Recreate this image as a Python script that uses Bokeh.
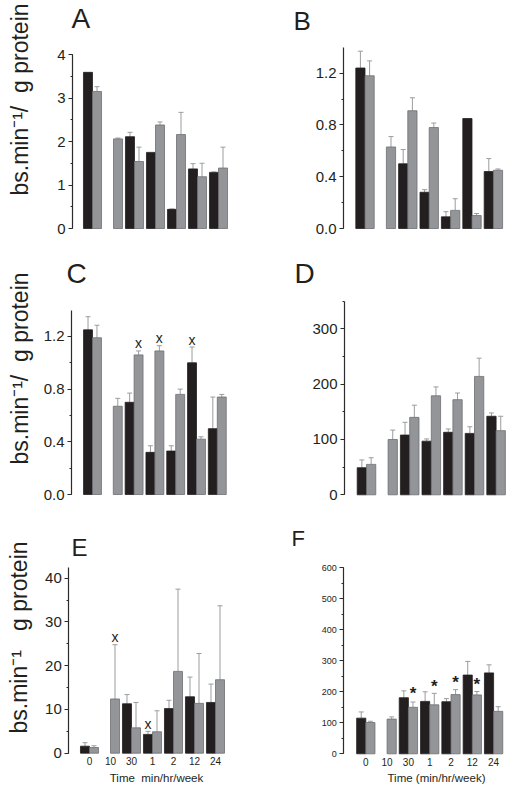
import math
from bokeh.plotting import figure
from bokeh.models import (ColumnDataSource, Whisker, TeeHead, Label, Range1d,
                          SingleIntervalTicker, FixedTicker, NumeralTickFormatter)
from bokeh.layouts import column, row
from bokeh.embed import file_html
from bokeh.resources import INLINE
from bokeh.core.properties import value

nan = float("nan")

# ---------------- data ----------------
times = ["0", "10", "30", "1", "2", "12", "24"]

a_black = [3.59, nan, 2.11, 1.75, 0.44, 1.37, 1.29]
a_black_err = [0.0, nan, 0.10, 0.0, 0.01, 0.12, 0.01]
a_gray = [3.15, 2.06, 1.54, 2.38, 2.16, 1.19, 1.39]
a_gray_err = [0.11, 0.02, 0.33, 0.07, 0.51, 0.31, 0.48]

b_black = [1.24, nan, 0.50, 0.28, 0.09, 0.85, 0.44]
b_black_err = [0.13, nan, 0.11, 0.02, 0.04, 0.0, 0.10]
b_gray = [1.18, 0.63, 0.91, 0.78, 0.14, 0.10, 0.45]
b_gray_err = [0.115, 0.08, 0.10, 0.035, 0.09, 0.016, 0.01]

c_black = [1.25, nan, 0.70, 0.32, 0.33, 1.00, 0.50]
c_black_err = [0.10, nan, 0.07, 0.05, 0.04, 0.12, 0.24]
c_gray = [1.19, 0.67, 1.06, 1.09, 0.76, 0.42, 0.74]
c_gray_err = [0.095, 0.06, 0.03, 0.04, 0.04, 0.018, 0.02]

d_black = [49, nan, 108, 97, 113, 111, 142]
d_black_err = [14, nan, 23, 4, 6, 12, 6]
d_gray = [55, 100, 140, 179, 172, 214, 116]
d_gray_err = [12, 17, 22, 16, 12, 33, 26]

e_black = [1.6, nan, 11.3, 4.3, 10.2, 12.9, 11.6]
e_black_err = [0.8, nan, 2.1, 0.7, 1.9, 4.5, 4.2]
e_gray = [1.3, 12.4, 5.8, 4.9, 18.7, 11.4, 16.8]
e_gray_err = [0.4, 12.4, 5.8, 4.8, 18.8, 11.4, 16.9]

f_black = [115, nan, 181, 169, 168, 254, 261]
f_black_err = [20, nan, 22, 31, 10, 44, 26]
f_gray = [101, 112, 150, 158, 191, 190, 137]
f_gray_err = [4, 7, 17, 37, 16, 11, 15]

# significance marks: (time index, series, y)
c_mark_idx = [2, 3, 5]
c_mark_series = ["gray", "gray", "black"]
c_mark_y = [1.15, 1.19, 1.17]
e_mark_idx = [1, 3]
e_mark_series = ["gray", "black"]
e_mark_y = [26.6, 6.6]
f_mark_idx = [2, 3, 4, 5]
f_mark_series = ["gray", "gray", "gray", "gray"]
f_mark_y = [196, 218, 231, 225]

NB = "\u00a0"
ytitle_main = "bs.min\u207b\u00b9/" + NB * 2 + "g protein"
ytitle_e = "bs.min\u207b\u00b9" + NB * 3 + "g protein"
xtitle_e = "Time" + NB * 2 + "min/hr/week"
xtitle_f = "Time (min/hr/week)"

# ---------------- style ----------------
FONT = "Liberation Sans"
BLACK = "#231f20"
GRAY = "#939598"
GRAY_EDGE = "#6d6e71"
ERR = "#9a9c9f"
AXIS = "#2b2b2b"
BW = 0.43
OFF = BW / 2


def panel(fx, fy, W, H, c0, s, axis_px, Z, T, ymax, interval, fmt,
          black, black_err, gray, gray_err, letter, letter_pos, letter_size,
          ytitle=None, ytitle_pos=None, tick_size="15px", xtitle=None,
          xtitle_pos=None, marks=None, mark_text="x", mark_size="14px",
          mark_style="normal"):
    # page-pixel layout -> data ranges (frame fills the whole figure)
    x0 = -(c0 - fx) / s
    x1 = x0 + W / s
    k = (Z - T) / ymax
    y0 = -(fy + H - Z) / k
    y1 = y0 + H / k
    xa = x0 + (axis_px - fx) / s

    p = figure(width=W, height=H, output_backend="svg", toolbar_location=None,
               x_range=Range1d(x0, x1), y_range=Range1d(y0, y1),
               min_border_left=0, min_border_right=0,
               min_border_top=0, min_border_bottom=0)
    p.outline_line_color = None
    p.grid.visible = False
    p.background_fill_color = "white"
    p.border_fill_color = "white"

    bx = [i - OFF for i, v in enumerate(black) if not math.isnan(v)]
    bv = [v for v in black if not math.isnan(v)]
    gx = [i + OFF for i, v in enumerate(gray) if not math.isnan(v)]
    gv = [v for v in gray if not math.isnan(v)]
    p.vbar(x=bx, top=bv, bottom=0, width=BW, fill_color=BLACK,
           line_color=BLACK, line_width=0.8)
    p.vbar(x=gx, top=gv, bottom=0, width=BW, fill_color=GRAY,
           line_color=GRAY_EDGE, line_width=0.8)

    for vals, errs, off in ((black, black_err, -OFF), (gray, gray_err, OFF)):
        base, lo, up = [], [], []
        for i, (v, e) in enumerate(zip(vals, errs)):
            if math.isnan(v) or math.isnan(e) or e <= 0:
                continue
            base.append(i + off)
            lo.append(v)
            up.append(v + e)
        src = ColumnDataSource(dict(base=base, lower=lo, upper=up))
        w = Whisker(base="base", lower="lower", upper="upper", source=src,
                    line_color=ERR, line_width=1, lower_head=None,
                    upper_head=TeeHead(size=5, line_color=ERR, line_width=1))
        p.add_layout(w)

    yax = p.yaxis[0]
    yax.fixed_location = xa
    yax.bounds = (0, ymax)
    yax.ticker = SingleIntervalTicker(interval=interval, num_minor_ticks=2)
    yax.formatter = NumeralTickFormatter(format=fmt)
    yax.axis_line_color = AXIS
    yax.axis_line_width = 1.2
    yax.major_tick_line_color = AXIS
    yax.minor_tick_line_color = AXIS
    yax.major_tick_in = 0
    yax.major_tick_out = 4
    yax.minor_tick_in = 0
    yax.minor_tick_out = 2
    yax.major_label_standoff = 3
    yax.major_label_text_font = FONT
    yax.major_label_text_font_size = tick_size
    yax.major_label_text_color = BLACK

    xax = p.xaxis[0]
    if xtitle is None:
        xax.visible = False
    else:
        xax.fixed_location = 0
        xax.ticker = FixedTicker(ticks=list(range(len(times))))
        xax.major_label_overrides = {i: t for i, t in enumerate(times)}
        xax.axis_line_color = None
        xax.major_tick_line_color = None
        xax.minor_tick_line_color = None
        xax.major_tick_out = 0
        xax.major_tick_in = 0
        xax.major_label_standoff = 4
        xax.major_label_text_font = FONT
        xax.major_label_text_font_size = "10px"
        xax.major_label_text_color = BLACK
        p.add_layout(Label(x=xtitle_pos[0] - fx, y=fy + H - xtitle_pos[1],
                           x_units="screen", y_units="screen", text=xtitle,
                           text_font=FONT, text_font_size="11.5px",
                           text_align="center", text_baseline="middle",
                           text_color=BLACK))

    if marks is not None:
        idx, series, ys = marks
        mx = [i - OFF if sr == "black" else i + OFF for i, sr in zip(idx, series)]
        p.text(x=mx, y=ys, text=[mark_text] * len(mx), text_font=value(FONT),
               text_font_size=mark_size, text_font_style=mark_style,
               text_align="center", text_baseline="middle", text_color=BLACK)

    # letter: page (left x, centre y) -> screen coords of the frame
    p.add_layout(Label(x=letter_pos[0] - fx, y=fy + H - letter_pos[1],
                       x_units="screen", y_units="screen", text=letter,
                       text_font=FONT, text_font_size=letter_size,
                       text_align="left", text_baseline="middle",
                       text_color=BLACK))
    if ytitle is not None:
        p.add_layout(Label(x=ytitle_pos[0] - fx, y=fy + H - ytitle_pos[1],
                           x_units="screen", y_units="screen", text=ytitle,
                           text_font=FONT, text_font_size="23px",
                           text_align="center", text_baseline="middle",
                           angle=math.pi / 2, text_color=BLACK))
    return p


pA = panel(0, 0, 260, 240, 92, 21.0, 72, 228, 54, 4.0, 1, "0",
           a_black, a_black_err, a_gray, a_gray_err, "A", (71, 18), "28px",
           ytitle=ytitle_main, ytitle_pos=(19, 99))
pB = panel(260, 0, 247, 240, 364.5, 21.4, 343, 228, 46.8, 1.4, 0.4, "0.0",
           b_black, b_black_err, b_gray, b_gray_err, "B", (293, 20.5), "26px")
pC = panel(0, 240, 260, 270, 92, 20.8, 71, 494, 309.6, 1.4, 0.4, "0.0",
           c_black, c_black_err, c_gray, c_gray_err, "C", (66, 272.5), "28px",
           ytitle=ytitle_main, ytitle_pos=(19, 368),
           marks=(c_mark_idx, c_mark_series, c_mark_y))
pD = panel(260, 240, 247, 270, 366, 21.6, 344, 494.3, 300.7, 350, 100, "0",
           d_black, d_black_err, d_gray, d_gray_err, "D", (294, 273), "28px")
pE = panel(0, 510, 260, 277, 89, 21.0, 68.3, 752.7, 566.8, 42.5, 10, "0",
           e_black, e_black_err, e_gray, e_gray_err, "E", (71, 546.5), "24px",
           ytitle=ytitle_e, ytitle_pos=(18, 637),
           xtitle=xtitle_e, xtitle_pos=(156, 777),
           marks=(e_mark_idx, e_mark_series, e_mark_y))
pF = panel(260, 510, 247, 277, 365.3, 21.3, 343.3, 753.3, 567.3, 600, 100, "0",
           f_black, f_black_err, f_gray, f_gray_err, "F", (291, 537.5), "22px",
           tick_size="9px", xtitle=xtitle_f, xtitle_pos=(436, 777),
           marks=(f_mark_idx, f_mark_series, f_mark_y), mark_text="*",
           mark_size="17px", mark_style="bold")

layout = column(row(pA, pB, spacing=0), row(pC, pD, spacing=0),
                row(pE, pF, spacing=0), spacing=0)

with open("out.html", "w") as fh:
    fh.write(file_html(layout, INLINE))
